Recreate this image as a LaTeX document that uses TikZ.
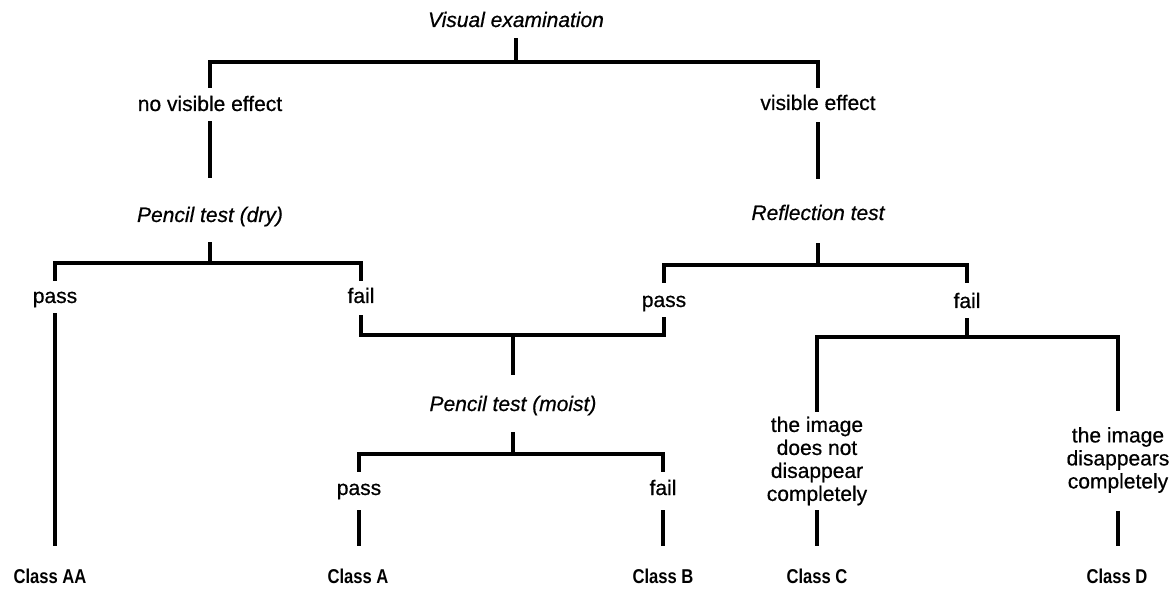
\documentclass[tikz,border=0pt]{standalone}
\usepackage{fontspec}
\setmainfont{Liberation Sans}[FakeBold=0.6, ItalicFeatures={FakeBold=0.6}]
\newfontfamily\condfont[FakeStretch=0.83]{Liberation Sans}
\begin{document}
\begin{tikzpicture}[x=1pt,y=-1pt,
  lbl/.style={inner sep=0pt, text height=15pt, text depth=5pt, font=\fontsize{21}{23}\selectfont},
  tst/.style={lbl, font=\fontsize{21}{23}\selectfont\itshape},
  cls/.style={lbl, font=\fontsize{20}{23}\selectfont\condfont\bfseries},
  multi/.style={inner sep=0pt, align=center, font=\fontsize{21}{23}\selectfont},
  conn/.style={line width=3.2pt, line cap=butt, line join=miter}]
\fill[white] (0,0) rectangle (1170,593);
\useasboundingbox (0,0) rectangle (1170,593);

% labels
\node[tst] (ve) at (516,22) {Visual examination};
\node[lbl] (nve) at (210,106) {no visible effect};
\node[lbl] (vis) at (818,105) {visible effect};
\node[tst] (pdry) at (210,217) {Pencil test (dry)};
\node[tst] (refl) at (818,215) {Reflection test};
\node[lbl] (pass1) at (55,298) {pass};
\node[lbl] (fail1) at (361,298) {fail};
\node[lbl] (pass2) at (664,302) {pass};
\node[lbl] (fail2) at (967,303) {fail};
\node[tst] (moist) at (513,406) {Pencil test (moist)};
\node[lbl] (pass3) at (359,490) {pass};
\node[lbl] (fail3) at (663,490) {fail};
\node[multi] (imgC) at (817,461) {the image\\does not\\disappear\\completely};
\node[multi] (imgD) at (1118,460) {the image\\disappears\\completely};
\node[cls] (cAA) at (50,578) {Class AA};
\node[cls] (cA) at (358,578) {Class A};
\node[cls] (cB) at (663,578) {Class B};
\node[cls] (cC) at (817,578) {Class C};
\node[cls] (cD) at (1117,578) {Class D};

% junctions
\coordinate (jT) at (516,62);
\coordinate (jL) at (210,263);
\coordinate (jR) at (818,265);
\coordinate (jM) at (513,335);
\coordinate (jMo) at (513,454);
\coordinate (jF) at (967,337);

% connectors
\draw[conn, shorten <=6pt] (ve.south) -- (jT);
\draw[conn, shorten <=8pt, shorten >=7pt] (nve.north) -- (nve.north |- jT) -- (vis.north |- jT) -- (vis.north);
\draw[conn, shorten <=5pt, shorten >=29pt] (nve.south) -- (pdry.north);
\draw[conn, shorten <=7pt, shorten >=26pt] (vis.south) -- (refl.north);
\draw[conn, shorten <=15pt] (pdry.south) -- (jL);
\draw[conn, shorten <=18pt] (refl.south) -- (jR);
\draw[conn, shorten <=7pt, shorten >=7pt] (pass1.north) -- (pass1.north |- jL) -- (fail1.north |- jL) -- (fail1.north);
\draw[conn, shorten <=9pt, shorten >=10pt] (pass2.north) -- (pass2.north |- jR) -- (fail2.north |- jR) -- (fail2.north);
\draw[conn, shorten <=5pt, shorten >=22pt] (pass1.south) -- (pass1.south |- cAA.north);
\draw[conn, shorten <=7pt, shorten >=5pt] (fail1.south) -- (fail1.south |- jM) -- (pass2.south |- jM) -- (pass2.south);
\draw[conn, shorten >=21pt] (jM) -- (moist.north);
\draw[conn, shorten <=16pt] (moist.south) -- (jMo);
\draw[conn, shorten <=8pt, shorten >=8pt] (pass3.north) -- (pass3.north |- jMo) -- (fail3.north |- jMo) -- (fail3.north);
\draw[conn, shorten <=10pt, shorten >=22pt] (pass3.south) -- (pass3.south |- cA.north);
\draw[conn, shorten <=10pt, shorten >=22pt] (fail3.south) -- (fail3.south |- cB.north);
\draw[conn, shorten <=5pt] (fail2.south) -- (jF);
\draw[conn, shorten <=5pt, shorten >=16pt] (imgC.north) -- (imgC.north |- jF) -- (imgD.north |- jF) -- (imgD.north);
\draw[conn, shorten <=5pt, shorten >=22pt] (imgC.south) -- (imgC.south |- cC.north);
\draw[conn, shorten <=18pt, shorten >=22pt] (imgD.south) -- (imgD.south |- cD.north);
\end{tikzpicture}
\end{document}
